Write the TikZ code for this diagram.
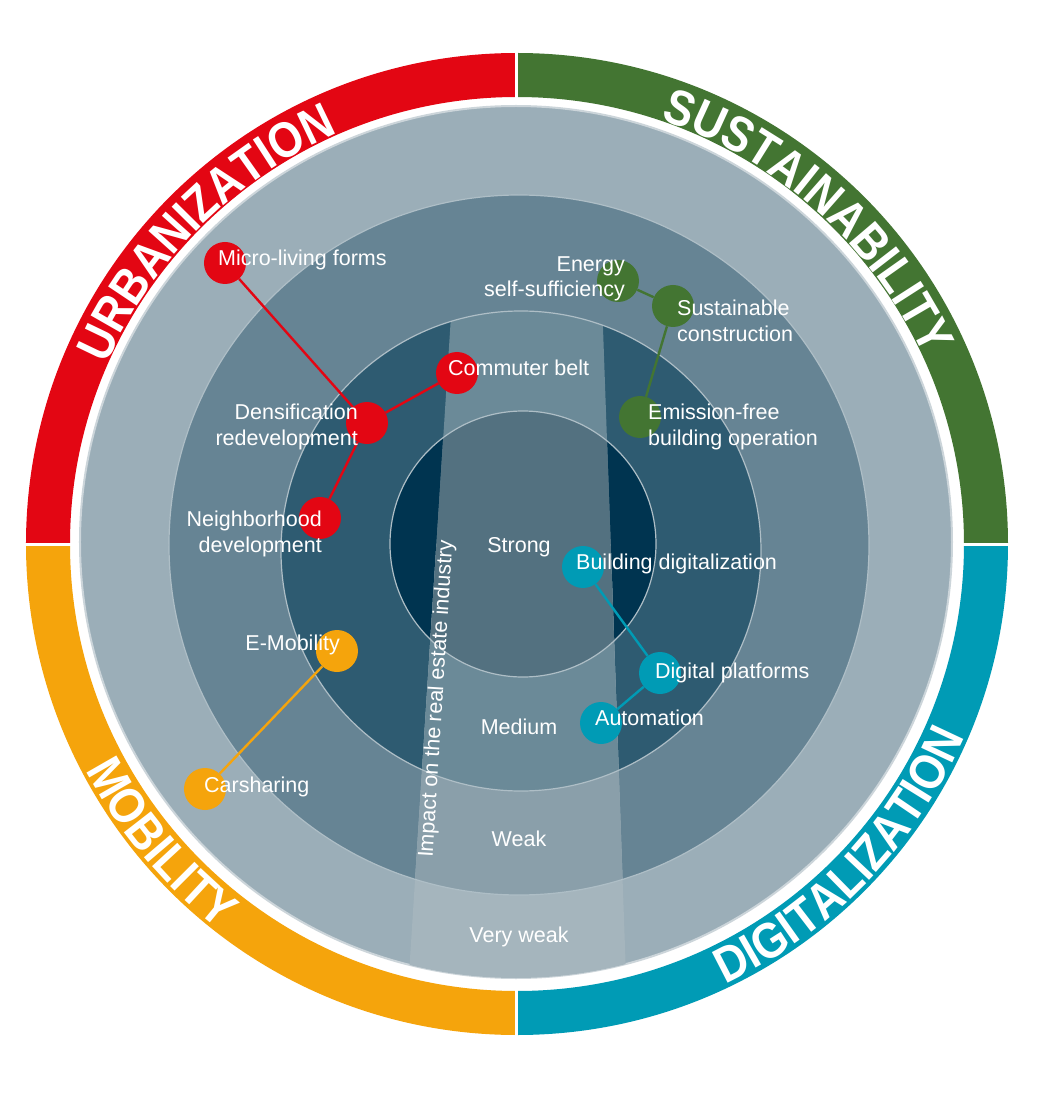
\documentclass[tikz,border=0pt]{standalone}
\usepackage{fontspec}
\setmainfont{Liberation Sans}
\newfontfamily\ringfont{Liberation Sans}[FakeStretch=0.88]
\usetikzlibrary{decorations.text}
\definecolor{cRed}{HTML}{E30613}
\definecolor{cGreen}{HTML}{437532}
\definecolor{cTeal}{HTML}{009BB5}
\definecolor{cOrange}{HTML}{F5A40C}
\definecolor{cVW}{HTML}{9BAEB8}
\definecolor{cW}{HTML}{668494}
\definecolor{cM}{HTML}{2E5B71}
\definecolor{cS}{HTML}{003450}
\definecolor{bVW}{HTML}{A5B5BD}
\definecolor{bW}{HTML}{8A9FAA}
\definecolor{bM}{HTML}{6B8A98}
\definecolor{bS}{HTML}{537180}
\definecolor{ringline}{HTML}{AEBEC6}
\definecolor{diskedge}{HTML}{CCD5DA}
\begin{document}
\begin{tikzpicture}[x=1pt,y=1pt,
  dot/.style={circle, inner sep=0pt, minimum size=42pt, fill=#1},
  lbl/.style={text=white, font=\fontsize{21.5}{25.5}\selectfont, inner sep=0pt},
  link/.style={line width=2.4pt, draw=#1},
  ringl/.style={line width=1.2pt, draw=ringline}]
\useasboundingbox (-517,-551) rectangle (521,544);
\fill[white] (-517,-551) rectangle (521,544);

% outer coloured ring
\fill[cGreen] (0:491) arc[start angle=0,end angle=90,radius=491] -- (90:447) arc[start angle=90,end angle=0,radius=447] -- cycle;
\fill[cRed] (90:491) arc[start angle=90,end angle=180,radius=491] -- (180:447) arc[start angle=180,end angle=90,radius=447] -- cycle;
\fill[cOrange] (180:491) arc[start angle=180,end angle=270,radius=491] -- (270:447) arc[start angle=270,end angle=180,radius=447] -- cycle;
\fill[cTeal] (270:491) arc[start angle=270,end angle=360,radius=491] -- (360:447) arc[start angle=360,end angle=270,radius=447] -- cycle;
\draw[white, line width=3pt] (0,-500) -- (0,500) (-500,0) -- (500,0);

% disk and rings
\fill[cVW, draw=diskedge, line width=2pt] (-1,2) circle[radius=436];
\fill[cW] (2,-1) circle[radius=350];
\fill[cM] (4,-7) circle[radius=240];
\fill[cS] (6,0) circle[radius=133];

% impact band
\begin{scope}
  \clip (-64.6,250) -- (84.8,250) -- (109.3,-440) -- (-108.6,-440) -- cycle;
  \begin{scope}
    \clip (-520,0) rectangle (520,-560);
    \fill[bVW] (-1,2) circle[radius=436];
    \fill[bW] (2,-1) circle[radius=350];
  \end{scope}
  \fill[bM] (4,-7) circle[radius=240];
  \fill[bS] (6,0) circle[radius=133];
\end{scope}

\draw[ringl] (2,-1) circle[radius=350];
\draw[ringl] (4,-7) circle[radius=240];
\draw[ringl] (6,0) circle[radius=133];

% level labels
\node[lbl] (strong) at (2,-3) {Strong};
\node[lbl] (medium) at (2,-183) {Medium};
\node[lbl] (weak) at (2,-295) {Weak};
\node[lbl] (veryweak) at (2,-393) {Very weak};
\node[lbl, rotate=86.4] (impact) at (-80,-155) {Impact on the real estate industry};

% dots
\node[dot=cRed] (micro) at (-292,281) {};
\node[dot=cRed] (commuter) at (-60,171) {};
\node[dot=cRed] (densif) at (-150,121) {};
\node[dot=cRed] (neigh) at (-197,26) {};
\node[dot=cGreen] (energy) at (101,263) {};
\node[dot=cGreen] (sustain) at (156,238) {};
\node[dot=cGreen] (emission) at (123,127) {};
\node[dot=cTeal] (building) at (66,-23) {};
\node[dot=cTeal] (platforms) at (143,-129) {};
\node[dot=cTeal] (automation) at (84,-179) {};
\node[dot=cOrange] (emob) at (-180,-107) {};
\node[dot=cOrange] (carshare) at (-312,-245) {};

% connectors
\draw[link=cRed] (micro) -- (densif);
\draw[link=cRed] (densif) -- (commuter);
\draw[link=cRed] (densif) -- (neigh);
\draw[link=cGreen] (energy) -- (sustain);
\draw[link=cGreen] (sustain) -- (emission);
\draw[link=cTeal] (building) -- (platforms);
\draw[link=cTeal] (platforms) -- (automation);
\draw[link=cOrange] (emob) -- (carshare);

% labels
\node[lbl, anchor=mid west] (microL) at (-299,281) {Micro-living forms};
\node[lbl, anchor=mid west] (commuterL) at (-69,171) {Commuter belt};
\node[lbl, anchor=east, align=right] (densifL) at (-159,117) {Densification\\redevelopment};
\node[lbl, anchor=east, align=right] (neighL) at (-195,10) {Neighborhood\\development};
\node[lbl, anchor=east, align=right] (energyL) at (108,265) {Energy\\self-sufficiency};
\node[lbl, anchor=west, align=left] (sustainL) at (160,223) {Sustainable\\construction};
\node[lbl, anchor=west, align=left] (emissionL) at (131,117) {Emission-free\\building operation};
\node[lbl, anchor=mid west] (buildingL) at (59,-23) {Building digitalization};
\node[lbl, anchor=mid west] (platformsL) at (138,-132) {Digital platforms};
\node[lbl, anchor=mid west] (automationL) at (78,-179) {Automation};
\node[lbl, anchor=mid east] (emobL) at (-177,-104) {E-Mobility};
\node[lbl, anchor=mid west] (carshareL) at (-313,-246) {Carsharing};

% ring titles
\path[decorate, decoration={text along path, text align=center,
  text={|\ringfont\fontsize{50}{50}\selectfont\bfseries\color{white}|URBANIZATION}}]
  (180:448) arc[start angle=180, end angle=90, radius=448];
\path[decorate, decoration={text along path, text align=center,
  text={|\ringfont\fontsize{50}{50}\selectfont\bfseries\color{white}|SUSTAINABILITY}}]
  (93:448) arc[start angle=93, end angle=3, radius=448];
\path[decorate, decoration={text along path, text align=center,
  text={|\ringfont\fontsize{50}{50}\selectfont\bfseries\color{white}|MOBILITY}}]
  (175:487) arc[start angle=175, end angle=265, radius=487];
\path[decorate, decoration={text along path, text align=center,
  text={|\ringfont\fontsize{50}{50}\selectfont\bfseries\color{white}|DIGITALIZATION}}]
  (271:487) arc[start angle=271, end angle=361, radius=487];
\end{tikzpicture}
\end{document}
